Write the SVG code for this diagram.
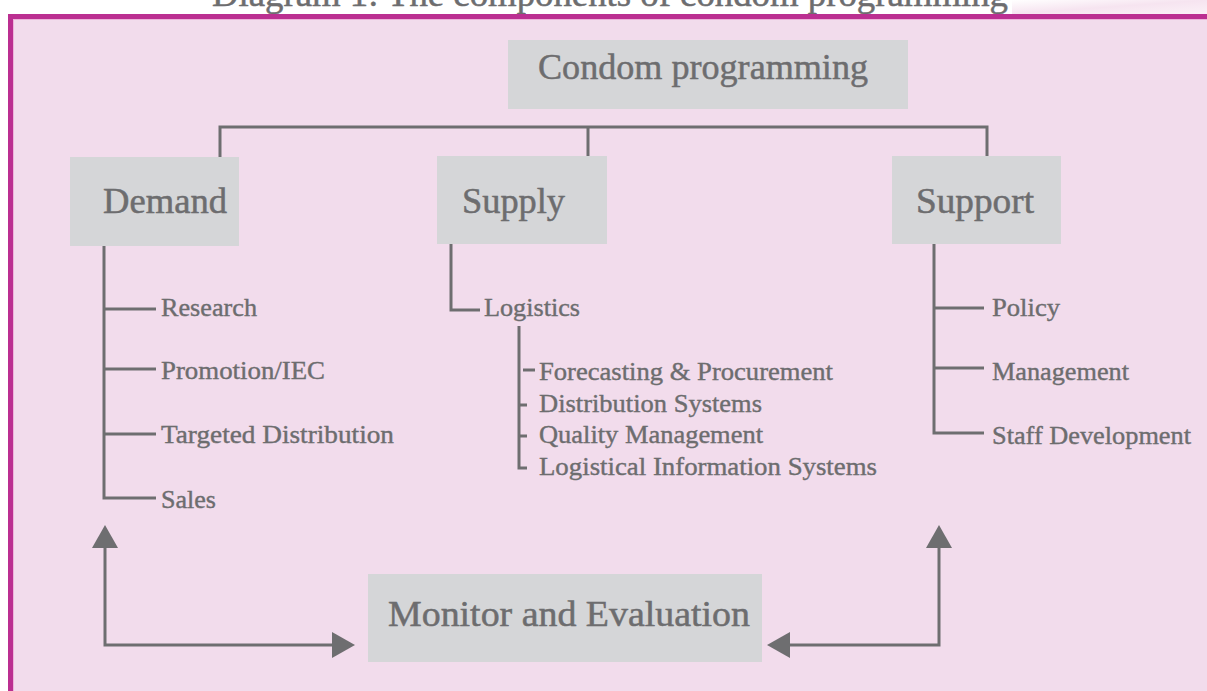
<svg xmlns="http://www.w3.org/2000/svg" width="1207" height="691" viewBox="0 0 1207 691">
  <defs>
    <style>
      .box { fill: #D5D6D8; }
      text { font-family: 'Liberation Serif', 'Times New Roman', serif; fill: #6D6D6F; stroke: #6D6D6F; stroke-width: 0.5; }
      .big { font-size: 36px; }
      .small { font-size: 26px; stroke-width: 0.4; }
      .ln { fill: none; stroke: #6E6E70; stroke-width: 3; }
      .head { fill: #6E6E70; }
    </style>
    <linearGradient id="fade" x1="0" y1="0" x2="1" y2="1">
      <stop offset="0" stop-color="#FFFFFF"/>
      <stop offset="0.5" stop-color="#F6E4F0"/>
      <stop offset="1" stop-color="#FBF1F7"/>
    </linearGradient>
  </defs>

  <rect x="0" y="0" width="1207" height="691" fill="#FFFFFF"/>
  <rect x="1012" y="0" width="195" height="14" fill="url(#fade)"/>
  <text id="title" x="212" y="6" class="big" textLength="796" lengthAdjust="spacingAndGlyphs">Diagram 1: The components of condom programming</text>

  <g id="frame">
    <rect x="10.5" y="16.5" width="1210" height="700" fill="#F2DCEC" stroke="#BB2F91" stroke-width="5"/>
    <rect x="13.5" y="19.5" width="1210" height="700" fill="none" stroke="#EDB3DA" stroke-width="1"/>
  </g>

  <g id="connectors">
    <path class="ln" d="M220,157 V127 H987 V156 M588,127 V156"/>
    <path class="ln" d="M104,246 V498 H156 M104,309 H156 M104,369 H156 M104,434 H156"/>
    <path class="ln" d="M451,244 V310 H480"/>
    <path class="ln" d="M519,326 V468 H527 M523,370 H535 M519,405 H527 M519,436 H527"/>
    <path class="ln" d="M934,244 V433 H984 M934,308 H984 M934,368 H984"/>
    <path class="ln" d="M105,547 V645 H334"/>
    <polygon class="head" points="105,525 92,548 118,548"/>
    <polygon class="head" points="355,645 332,632 332,658"/>
    <path class="ln" d="M939,547 V645 H789"/>
    <polygon class="head" points="939,525 926,548 952,548"/>
    <polygon class="head" points="767,645 790,632 790,658"/>
  </g>

  <g id="condom-programming">
    <rect class="box" x="508" y="40" width="400" height="69"/>
    <text class="big" x="538" y="79" textLength="330" lengthAdjust="spacingAndGlyphs">Condom programming</text>
  </g>
  <g id="demand">
    <rect class="box" x="70" y="157" width="169" height="89"/>
    <text class="big" x="103" y="213" textLength="124" lengthAdjust="spacingAndGlyphs">Demand</text>
  </g>
  <g id="supply">
    <rect class="box" x="437" y="156" width="170" height="88"/>
    <text class="big" x="462" y="213" textLength="103" lengthAdjust="spacingAndGlyphs">Supply</text>
  </g>
  <g id="support">
    <rect class="box" x="892" y="156" width="169" height="88"/>
    <text class="big" x="916" y="213" textLength="118" lengthAdjust="spacingAndGlyphs">Support</text>
  </g>
  <g id="monitor">
    <rect class="box" x="368" y="574" width="394" height="88"/>
    <text class="big" x="388" y="626" textLength="362" lengthAdjust="spacingAndGlyphs">Monitor and Evaluation</text>
  </g>

  <g id="demand-items">
    <text class="small" x="161" y="316" textLength="96" lengthAdjust="spacingAndGlyphs">Research</text>
    <text class="small" x="161" y="379" textLength="164" lengthAdjust="spacingAndGlyphs">Promotion/IEC</text>
    <text class="small" x="161" y="443" textLength="233" lengthAdjust="spacingAndGlyphs">Targeted Distribution</text>
    <text class="small" x="161" y="508" textLength="55" lengthAdjust="spacingAndGlyphs">Sales</text>
  </g>
  <g id="supply-items">
    <text class="small" x="484" y="316" textLength="96" lengthAdjust="spacingAndGlyphs">Logistics</text>
    <text class="small" x="539" y="380" textLength="294" lengthAdjust="spacingAndGlyphs">Forecasting &amp; Procurement</text>
    <text class="small" x="539" y="412" textLength="223" lengthAdjust="spacingAndGlyphs">Distribution Systems</text>
    <text class="small" x="539" y="443" textLength="224" lengthAdjust="spacingAndGlyphs">Quality Management</text>
    <text class="small" x="539" y="475" textLength="338" lengthAdjust="spacingAndGlyphs">Logistical Information Systems</text>
  </g>
  <g id="support-items">
    <text class="small" x="992" y="316" textLength="68" lengthAdjust="spacingAndGlyphs">Policy</text>
    <text class="small" x="992" y="380" textLength="137" lengthAdjust="spacingAndGlyphs">Management</text>
    <text class="small" x="992" y="444" textLength="199" lengthAdjust="spacingAndGlyphs">Staff Development</text>
  </g>
</svg>
